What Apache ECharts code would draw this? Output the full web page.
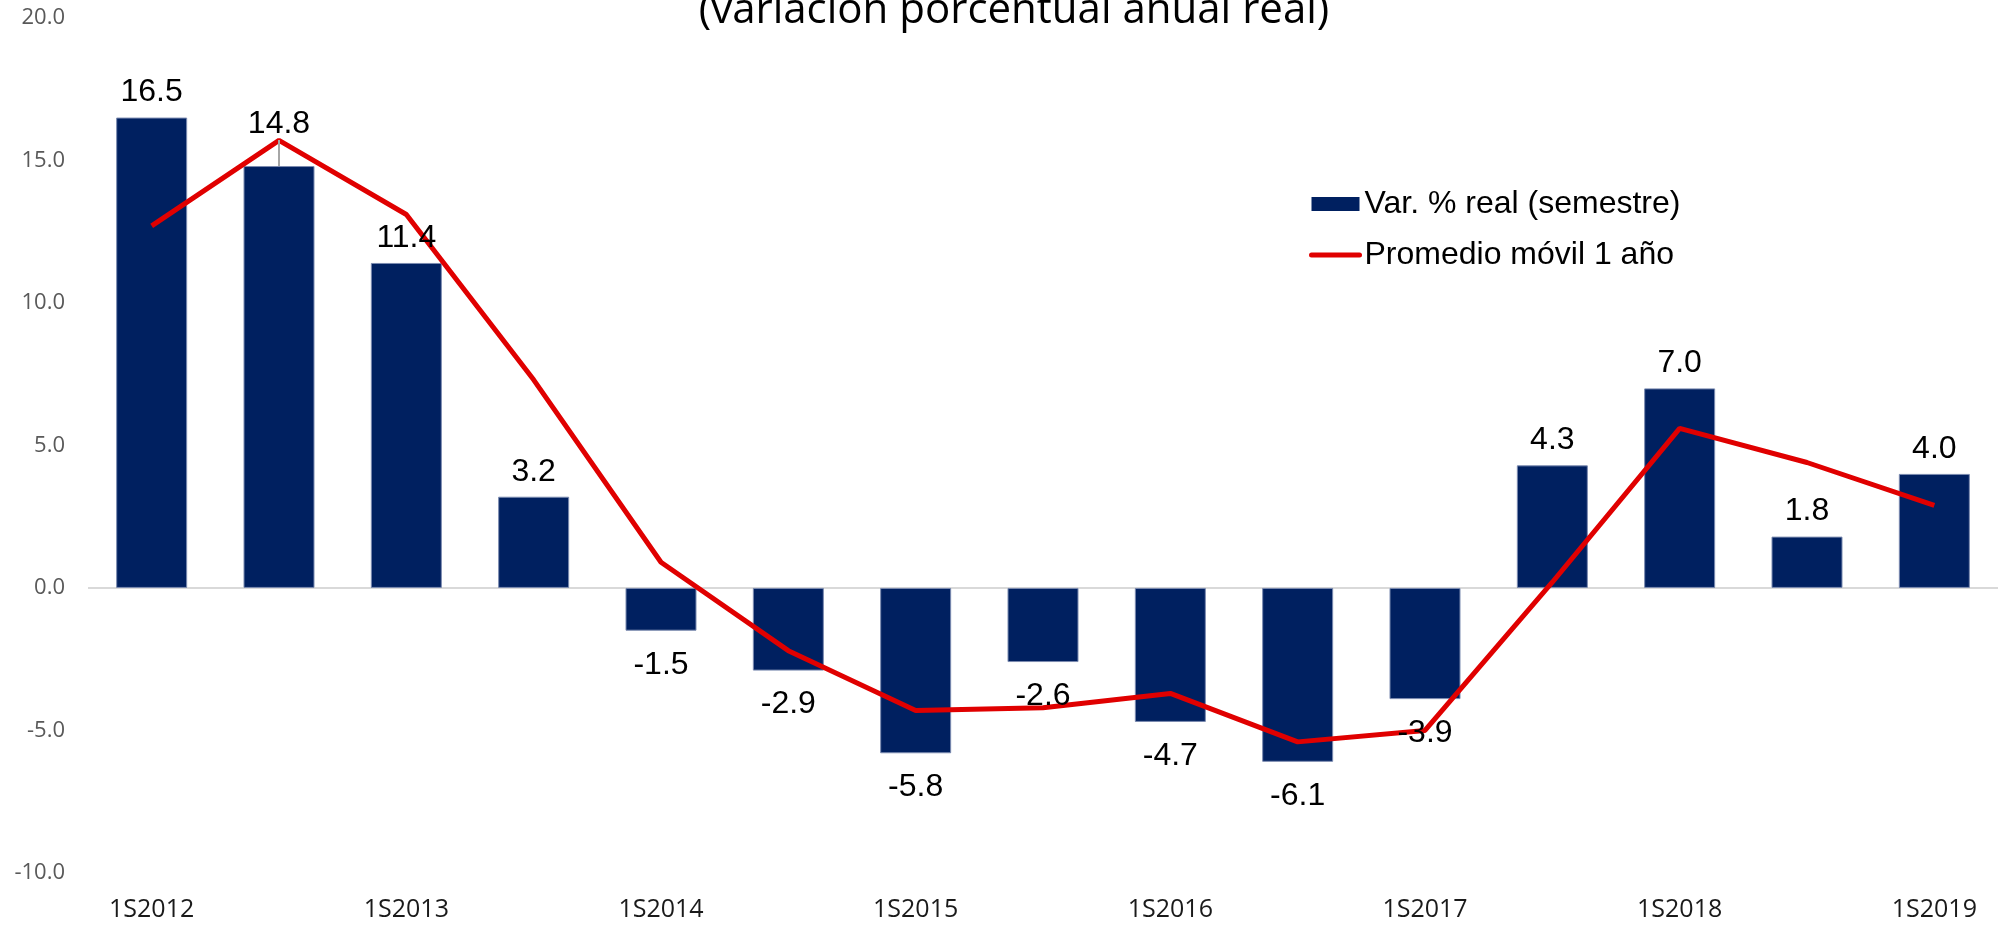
<!DOCTYPE html>
<html>
<head>
<meta charset="utf-8">
<script src="https://cdn.jsdelivr.net/npm/echarts@6/dist/echarts.min.js"></script>
<style>
  html, body { margin: 0; padding: 0; background: #fff; }
  #chart { width: 1998px; height: 925px; }
</style>
</head>
<body>
<div id="chart"></div>
<script>
// semestres
const categories = [
  "1S2012", "2S2012", "1S2013", "2S2013", "1S2014", "2S2014", "1S2015", "2S2015",
  "1S2016", "2S2016", "1S2017", "2S2017", "1S2018", "2S2018", "1S2019"
];
// variacion % real del semestre (barras)
const varSemestre = [16.5, 14.8, 11.4, 3.2, -1.5, -2.9, -5.8, -2.6, -4.7, -6.1, -3.9, 4.3, 7.0, 1.8, 4.0];
// promedio movil 1 año (linea)
const promedioMovil = [12.7, 15.7, 13.1, 7.3, 0.9, -2.2, -4.3, -4.2, -3.7, -5.4, -5.0, 0.2, 5.6, 4.4, 2.9];
const yTicks = { min: -10, max: 20, step: 5 };
const seriesNames = ["Var. % real (semestre)", "Promedio móvil 1 año"];
const titulo = "(variación porcentual anual real)";

const chart = echarts.init(document.getElementById("chart"));

// las etiquetas van en una serie transparente por encima de la linea
const labelData = varSemestre.map((v, i) => {
  const item = {
    value: v,
    label: { position: v < 0 ? "bottom" : "top", distance: v < 0 ? 18 : 9 },
  };
  // etiqueta 14.8 desplazada hacia arriba con linea guia
  if (i === 1) {
    item.labelLine = { show: true, lineStyle: { color: "#a6a6a6", width: 2 } };
  }
  return item;
});

chart.setOption({
  animation: false,
  graphic: [
    {
      type: "text",
      x: 1014,
      y: 11,
      style: {
        text: titulo,
        fill: "#000",
        font: '42px "Open Sans"',
        align: "center",
        verticalAlign: "middle",
      },
    },
  ],
  legend: {
    orient: "vertical",
    left: 1304,
    top: 183,
    itemWidth: 48,
    itemHeight: 14,
    itemGap: 19,
    itemTextGap: 10,
    textStyle: { fontFamily: "Liberation Sans", fontSize: 32, color: "#000" },
    data: [
      { name: seriesNames[0], icon: "rect", itemStyle: { borderWidth: 0 } },
      { name: seriesNames[1], itemStyle: { opacity: 0 }, lineStyle: { width: 5, cap: "round" } },
    ],
  },
  grid: { left: 88, right: -5.5, top: 17.8, bottom: 52 },
  xAxis: {
    type: "category",
    data: categories,
    axisLine: { show: false, onZero: false },
    axisTick: { show: false },
    axisLabel: {
      interval: 1,
      margin: 24,
      fontFamily: "Open Sans",
      fontSize: 25,
      color: "#1a1a1a",
    },
  },
  yAxis: {
    type: "value",
    min: yTicks.min,
    max: yTicks.max,
    interval: yTicks.step,
    splitLine: { show: false },
    axisLine: { show: false },
    axisTick: { show: false },
    axisLabel: {
      margin: 23,
      fontFamily: "Open Sans",
      fontSize: 22,
      color: "#595959",
      formatter: (v) => v.toFixed(1),
    },
  },
  series: [
    {
      name: seriesNames[0],
      type: "bar",
      data: varSemestre,
      barWidth: 71,
      itemStyle: { color: "#002060", borderColor: "#7b8bb0", borderWidth: 1 },
      markLine: {
        silent: true,
        symbol: "none",
        label: { show: false },
        lineStyle: { color: "#d9d9d9", type: "solid", width: 2 },
        data: [{ yAxis: 0 }],
        z: 1,
      },
      z: 2,
    },
    {
      name: seriesNames[1],
      type: "line",
      data: promedioMovil,
      symbol: "none",
      lineStyle: { color: "#e00000", width: 5 },
      itemStyle: { color: "#e00000" },
      z: 3,
    },
    {
      name: "etiquetas",
      type: "bar",
      data: labelData,
      barWidth: 71,
      barGap: "-100%",
      silent: true,
      itemStyle: { color: "rgba(0,0,0,0)", borderWidth: 0 },
      label: {
        show: true,
        fontFamily: "Liberation Sans",
        fontSize: 32,
        color: "#000",
        formatter: (p) => p.value.toFixed(1),
      },
      labelLayout: (params) => (params.dataIndex === 1 ? { dy: -17 } : {}),
      z: 4,
    },
  ],
});
</script>
</body>
</html>
